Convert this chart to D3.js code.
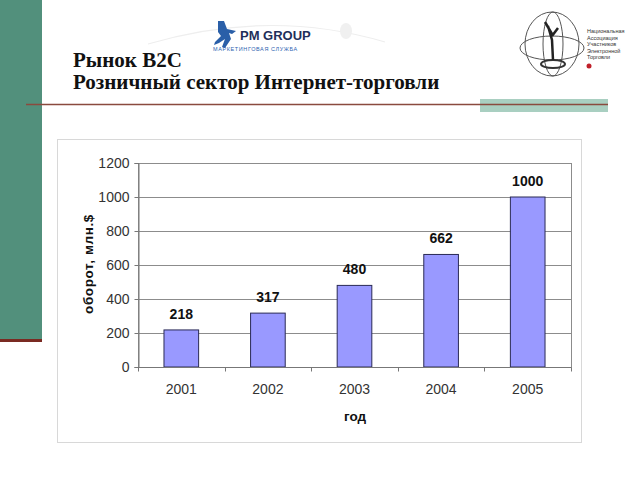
<!DOCTYPE html>
<html>
<head>
<meta charset="utf-8">
<script src="https://cdn.jsdelivr.net/npm/d3@7"></script>
<style>
  body { margin: 0; background: #fff; }
  svg { display: block; }
</style>
</head>
<body>
<svg id="chart" width="640" height="480"></svg>
<script>
const years = ['2001', '2002', '2003', '2004', '2005']
const turnover = [218, 317, 480, 662, 1000]
const yTicks = [0, 200, 400, 600, 800, 1000, 1200]
const titleLines = ['Рынок В2С', 'Розничный сектор Интернет-торговли']
const assocLines = ['Национальная', 'Ассоциация', 'Участников', 'Электронной', 'Торговли']

const svg = d3.select('#chart')

// slide decoration
svg.append('rect').attr('x', 0).attr('y', 0).attr('width', 42).attr('height', 341).attr('fill', '#52907c')
svg.append('rect').attr('x', 0).attr('y', 339).attr('width', 42).attr('height', 3).attr('fill', '#7a2a22')
svg.append('rect').attr('x', 480).attr('y', 99).attr('width', 128).attr('height', 13).attr('fill', '#a9cfc1')
svg.append('line').attr('x1', 26).attr('x2', 608).attr('y1', 104.5).attr('y2', 104.5)
  .attr('stroke', '#8a4a3e').attr('stroke-width', 1.5)

// faint swoosh behind the logos
svg.append('path').attr('d', 'M148,44 Q270,8 385,42').attr('fill', 'none').attr('stroke', '#eeeeee').attr('stroke-width', 1.2)
svg.append('ellipse').attr('cx', 346).attr('cy', 31).attr('rx', 6).attr('ry', 8).attr('fill', '#f0f0f0')

// PM GROUP logo
const pm = svg.append('g')
pm.append('path').attr('d', 'M218,21 l6,0 l3,8 l9,2 l-4,3 l-3,-1 l2,6 l-6,9 l-3,-1 l3,-8 l-6,4 l-5,2 l1,-3 l6,-6 l-3,-4 z')
  .attr('fill', '#2a5fa8')
pm.append('text').attr('x', 240).attr('y', 40).attr('font-family', 'Liberation Sans, Arial, sans-serif')
  .attr('font-weight', 'bold').attr('font-size', 13).attr('fill', '#1f2f5a').text('PM GROUP')
pm.append('text').attr('x', 213).attr('y', 51).attr('font-family', 'Liberation Sans, Arial, sans-serif')
  .attr('font-size', 5.5).attr('fill', '#2d5fb0').attr('letter-spacing', 0.6).text('МАРКЕТИНГОВАЯ СЛУЖБА')

// association logo
const nl = svg.append('g').attr('fill', 'none').attr('stroke', '#555')
nl.append('ellipse').attr('cx', 552).attr('cy', 44).attr('rx', 27).attr('ry', 32)
nl.append('ellipse').attr('cx', 552).attr('cy', 48).attr('rx', 32).attr('ry', 12)
nl.append('ellipse').attr('cx', 553).attr('cy', 44).attr('rx', 10).attr('ry', 32)
nl.append('ellipse').attr('cx', 553).attr('cy', 64).attr('rx', 12).attr('ry', 4).attr('stroke', '#333').attr('stroke-width', 2)
nl.append('path').attr('d', 'M553,60 L552,40 L548,26 M552,34 L545,22 M552,36 L558,28').attr('stroke', '#222').attr('stroke-width', 2.5)
svg.append('circle').attr('cx', 589).attr('cy', 66).attr('r', 2.5).attr('fill', '#c0202a')
svg.append('g').selectAll('text').data(assocLines).join('text')
  .attr('x', 587).attr('y', (d, i) => 33 + i * 6.5)
  .attr('font-family', 'Liberation Sans, Arial, sans-serif').attr('font-size', 5.5).attr('fill', '#333')
  .text(d => d)

// title
svg.append('g').selectAll('text').data(titleLines).join('text')
  .attr('x', 73).attr('y', (d, i) => 67 + i * 22)
  .attr('font-family', 'Liberation Serif, Times New Roman, serif').attr('font-weight', 'bold')
  .attr('font-size', 21).attr('fill', '#111')
  .text(d => d)

// chart area frame
svg.append('rect').attr('x', 57.5).attr('y', 139.5).attr('width', 524).attr('height', 303)
  .attr('fill', '#fff').attr('stroke', '#d8d8d8')

const plotLeft = 138, plotRight = 571, plotTop = 163, plotBottom = 367

const x = d3.scaleBand().domain(years).range([plotLeft, plotRight]).padding(0)
const y = d3.scaleLinear().domain([0, 1200]).range([plotBottom, plotTop])

const g = svg.append('g')

// gridlines
g.selectAll('.grid').data(yTicks).join('line')
  .attr('class', 'grid')
  .attr('x1', plotLeft).attr('x2', plotRight)
  .attr('y1', d => Math.round(y(d)) + 0.5).attr('y2', d => Math.round(y(d)) + 0.5)
  .attr('stroke', '#8c8c8c').attr('stroke-width', 1)

// plot border
g.append('rect').attr('x', plotLeft + 0.5).attr('y', plotTop + 0.5)
  .attr('width', plotRight - plotLeft).attr('height', plotBottom - plotTop)
  .attr('fill', 'none').attr('stroke', '#8c8c8c')

// bars
const barW = x.bandwidth() * 0.4
g.selectAll('.bar').data(turnover).join('rect')
  .attr('class', 'bar')
  .attr('x', (d, i) => x(years[i]) + (x.bandwidth() - barW) / 2)
  .attr('y', d => y(d))
  .attr('width', barW)
  .attr('height', d => plotBottom - y(d))
  .attr('fill', '#9999ff').attr('stroke', '#2a2a55').attr('stroke-width', 1)

// value labels
g.selectAll('.val').data(turnover).join('text')
  .attr('class', 'val')
  .attr('x', (d, i) => x(years[i]) + x.bandwidth() / 2)
  .attr('y', d => y(d) - 11)
  .attr('text-anchor', 'middle')
  .attr('font-family', 'Liberation Sans, Arial, sans-serif').attr('font-weight', 'bold')
  .attr('font-size', 14).attr('fill', '#111')
  .text(d => d)

// y axis
const yAxis = g.append('g').attr('transform', `translate(${plotLeft + 0.5},0)`)
  .call(d3.axisLeft(y).tickValues(yTicks).tickFormat(d3.format('d')).tickSize(4).tickPadding(5))
yAxis.select('.domain').attr('stroke', '#777')
yAxis.selectAll('.tick line').attr('stroke', '#777')
yAxis.selectAll('text').attr('font-family', 'Liberation Sans, Arial, sans-serif').attr('font-size', 14).attr('fill', '#333')

// x axis: category ticks sit between the bars
const xAxis = g.append('g').attr('transform', `translate(0,${plotBottom + 0.5})`)
xAxis.append('line').attr('x1', plotLeft).attr('x2', plotRight).attr('stroke', '#777')
const bounds = years.map(d => x(d)).concat([plotRight])
xAxis.selectAll('.xt').data(bounds).join('line')
  .attr('class', 'xt')
  .attr('x1', d => Math.round(d) + 0.5).attr('x2', d => Math.round(d) + 0.5)
  .attr('y1', 0).attr('y2', 4).attr('stroke', '#777')
xAxis.selectAll('text').data(years).join('text')
  .attr('x', d => x(d) + x.bandwidth() / 2)
  .attr('y', 26)
  .attr('text-anchor', 'middle')
  .attr('font-family', 'Liberation Sans, Arial, sans-serif').attr('font-size', 14).attr('fill', '#333')
  .text(d => d)

// axis titles
svg.append('text')
  .attr('transform', 'translate(93,264) rotate(-90)')
  .attr('text-anchor', 'middle')
  .attr('font-family', 'Liberation Sans, Arial, sans-serif').attr('font-weight', 'bold')
  .attr('font-size', 13.5).attr('fill', '#111').attr('letter-spacing', 0.6)
  .text('оборот, млн.$')
svg.append('text')
  .attr('x', 355).attr('y', 421)
  .attr('text-anchor', 'middle')
  .attr('font-family', 'Liberation Sans, Arial, sans-serif').attr('font-weight', 'bold')
  .attr('font-size', 13.5).attr('fill', '#111')
  .text('год')
</script>
</body>
</html>
